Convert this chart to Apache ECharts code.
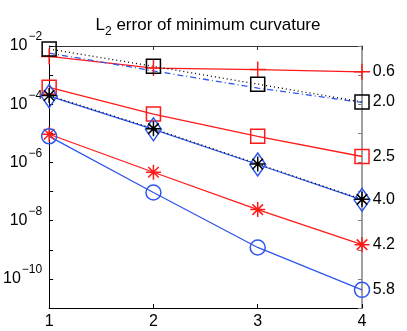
<!DOCTYPE html>
<html>
<head>
<meta charset="utf-8">
<script src="https://cdn.jsdelivr.net/npm/echarts@6/dist/echarts.min.js"></script>
<style>
  html, body { margin: 0; padding: 0; background: #fff; }
  #chart { width: 407px; height: 331px; }
</style>
</head>
<body>
<div id="chart"></div>
<script>
// refinement levels
var levels = [1, 2, 3, 4];

// L2 errors
var redPlus = [4.4e-3, 1.75e-3, 1.55e-3, 1.3e-3];
var blackSquare = [7.9e-3, 2.0e-3, 4.9e-4, 1.2e-4];
var blueDashDot = [5.7e-3, 1.4e-3, 3.6e-4, 1.15e-4];
var redSquare = [3.8e-4, 4.6e-5, 7.9e-6, 1.6e-6];
var blueDiamond = [1.9e-4, 1.38e-5, 8.5e-7, 5.2e-8];
var blackStar = [2.0e-4, 1.45e-5, 8.9e-7, 5.4e-8];
var redStar = [9.3e-6, 4.6e-7, 2.4e-8, 1.5e-9];
var blueCircle = [7.9e-6, 9.3e-8, 1.2e-9, 4.2e-11];

// convergence rates written at the right edge
var rates = ['0.6', '2.0', '2.5', '4.0', '4.2', '5.8'];

var RED = '#ff1a1a';
var BLUE = '#2f56ee';
var BLACK = '#000000';
var FONT = '"Liberation Sans", Arial, sans-serif';

var plusPath = 'path://M0,-1L0,1M-1,0L1,0';
var starPath = 'path://M0,-1L0,1M-1,0L1,0M-0.7,-0.7L0.7,0.7M-0.7,0.7L0.7,-0.7';

function pairs(vals) {
  return levels.map(function(x, i) { return [x, vals[i]]; });
}

function rateLabel(rate, size) {
  if (!rate) {
    return { show: false };
  }
  var w = Array.isArray(size) ? size[0] : size;
  return {
    show: true,
    position: 'right',
    distance: 10 - w / 2,
    color: '#000',
    fontFamily: FONT,
    fontSize: 16,
    formatter: function(p) { return p.dataIndex === levels.length - 1 ? rate : ''; }
  };
}

function makeSeries(name, vals, color, symbol, size, lineType, rate) {
  return {
    name: name,
    type: 'line',
    data: pairs(vals),
    symbol: symbol,
    symbolSize: size,
    showSymbol: symbol !== 'none',
    symbolKeepAspect: true,
    clip: false,
    lineStyle: { color: color, width: 1.3, type: lineType },
    itemStyle: { color: 'rgba(0,0,0,0)', borderColor: color, borderWidth: 1.5 },
    label: rateLabel(rate, size),
    emphasis: { disabled: true },
    z: 3
  };
}

function expLabel(v) {
  var e = Math.round(Math.log10(v));
  if (e % 2 !== 0) {
    return '';
  }
  return '{b|10}{e|' + '\u2212' + Math.abs(e) + '}';
}

var myChart = echarts.init(document.getElementById('chart'), null, { renderer: 'canvas' });

var option = {
  animation: false,
  backgroundColor: '#fff',
  title: {
    text: '{m|L}{s|2}{m| error of minimum curvature}',
    left: 203,
    textAlign: 'center',
    top: 7,
    textStyle: {
      fontWeight: 'normal',
      rich: {
        m: { fontFamily: FONT, fontSize: 17, fontWeight: 'normal', color: '#000', lineHeight: 26 },
        s: { fontFamily: FONT, fontSize: 12, fontWeight: 'normal', color: '#000', lineHeight: 12, verticalAlign: 'bottom' }
      }
    }
  },
  grid: { left: 45, right: 45, top: 46, bottom: 23 },
  xAxis: [{
    type: 'value',
    min: 1,
    max: 4,
    interval: 1,
    axisLine: { onZero: false, lineStyle: { color: BLACK, width: 1 } },
    axisTick: { inside: true, length: 4, lineStyle: { color: BLACK } },
    axisLabel: { color: '#000', fontFamily: FONT, fontSize: 16, margin: 6 },
    splitLine: { show: false }
  }, {
    type: 'value',
    position: 'top',
    min: 1,
    max: 4,
    interval: 1,
    axisLine: { onZero: false, lineStyle: { color: '#333', width: 1 } },
    axisTick: { inside: true, length: 4, lineStyle: { color: '#333' } },
    axisLabel: { show: false },
    splitLine: { show: false }
  }],
  yAxis: [{
    type: 'log',
    logBase: 10,
    min: 1e-11,
    max: 1e-2,
    axisLine: { lineStyle: { color: BLACK, width: 1 } },
    axisTick: { inside: true, length: 4, lineStyle: { color: BLACK } },
    axisLabel: {
      margin: 7,
      formatter: expLabel,
      rich: {
        b: { fontFamily: FONT, fontSize: 16, color: '#000', lineHeight: 30 },
        e: { fontFamily: FONT, fontSize: 12, color: '#000', lineHeight: 12, verticalAlign: 'top', padding: [0, 0, 0, 1] }
      }
    },
    splitLine: { show: false }
  }, {
    type: 'log',
    logBase: 10,
    position: 'right',
    min: 1e-11,
    max: 1e-2,
    axisLine: { lineStyle: { color: '#808080', width: 1.5 } },
    axisTick: { inside: true, length: 4, lineStyle: { color: '#808080' } },
    axisLabel: { show: false },
    splitLine: { show: false }
  }],
  series: [
    makeSeries('redPlus', redPlus, RED, plusPath, 16, 'solid', rates[0]),
    makeSeries('blueDashDot', blueDashDot, BLUE, 'none', 0, [6, 3, 1, 3], null),
    makeSeries('blackSquare', blackSquare, BLACK, 'rect', 14, [1, 3], rates[1]),
    makeSeries('redSquare', redSquare, RED, 'rect', 14, 'solid', rates[2]),
    makeSeries('blueDiamond', blueDiamond, BLUE, 'diamond', [16, 23], 'solid', null),
    makeSeries('blackStar', blackStar, BLACK, starPath, 15, [1, 3], rates[3]),
    makeSeries('redStar', redStar, RED, starPath, 15, 'solid', rates[4]),
    makeSeries('blueCircle', blueCircle, BLUE, 'circle', 15, 'solid', rates[5])
  ]
};

myChart.setOption(option);
</script>
</body>
</html>
